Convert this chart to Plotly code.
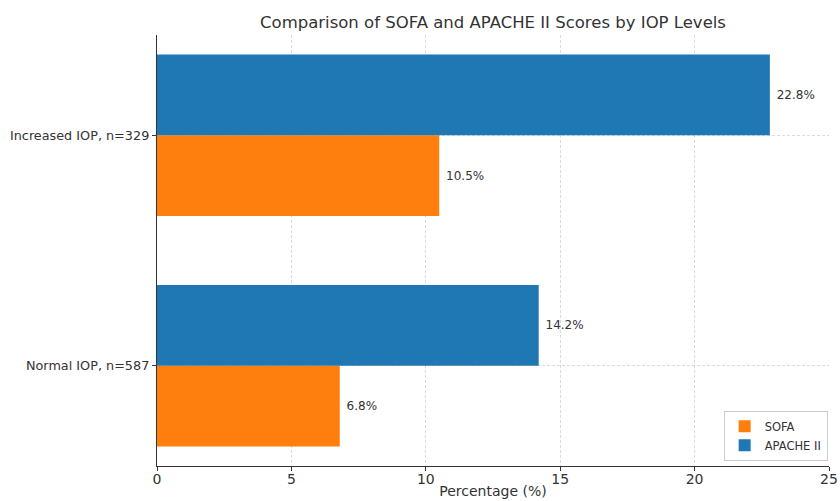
import plotly.graph_objects as go

# Groups and scores (percent)
groups = ["Normal IOP, n=587", "Increased IOP, n=329"]
sofa = [6.8, 10.5]
apache = [14.2, 22.8]
x_ticks = [0, 5, 10, 15, 20, 25]

positions = list(range(len(groups)))
bar_h = 0.35

FONT = "DejaVu Sans"
TXT = "#333333"
LABEL = "\u00a0%{x:.1f}%"

fig = go.Figure()

fig.add_trace(go.Bar(
    name="SOFA", y=positions, x=sofa, orientation="h",
    width=bar_h, offset=-bar_h,
    marker=dict(color="#ff7f0e", line=dict(width=0)),
    texttemplate=LABEL, textposition="outside",
    textfont=dict(family=FONT, size=12, color=TXT),
    cliponaxis=False,
))
fig.add_trace(go.Bar(
    name="APACHE II", y=positions, x=apache, orientation="h",
    width=bar_h, offset=0,
    marker=dict(color="#1f77b4", line=dict(width=0)),
    texttemplate=LABEL, textposition="outside",
    textfont=dict(family=FONT, size=12, color=TXT),
    cliponaxis=False,
))

grid = "rgba(175,175,175,0.45)"

fig.update_layout(
    width=840, height=501,
    margin=dict(l=157, r=11, t=35, b=35),
    paper_bgcolor="white", plot_bgcolor="white",
    barmode="overlay",
    font=dict(family=FONT, color=TXT),
    title=dict(
        text="Comparison of SOFA and APACHE II Scores by IOP Levels",
        x=(157 + 829) / 2 / 840, xanchor="center",
        y=1 - 22 / 501, yanchor="middle",
        font=dict(family=FONT, size=16.5, color=TXT),
    ),
    xaxis=dict(
        range=[0, 25], tickvals=x_ticks, ticktext=[str(v) for v in x_ticks],
        showline=True, linecolor="#333333", linewidth=1.3,
        ticks="outside", ticklen=4, tickcolor="#333333",
        ticklabelstandoff=-4,
        showgrid=True, gridcolor=grid, griddash="3px,2px", gridwidth=1,
        zeroline=False, layer="above traces", automargin=False,
        tickfont=dict(family=FONT, size=14, color=TXT),
        title=dict(text="Percentage (%)", standoff=0,
                   font=dict(family=FONT, size=14, color=TXT)),
    ),
    yaxis=dict(
        range=[-0.435, 1.435], tickvals=positions, ticktext=groups,
        showline=True, linecolor="#333333", linewidth=1.3,
        ticks="outside", ticklen=4, tickcolor="#333333",
        showgrid=True, gridcolor=grid, griddash="3px,2px", gridwidth=1,
        zeroline=False, layer="above traces", automargin=False,
        tickfont=dict(family=FONT, size=12.8, color=TXT),
    ),
    legend=dict(
        x=0.998, xanchor="right", y=0.012, yanchor="bottom",
        bgcolor="rgba(255,255,255,0.85)", bordercolor="#cccccc", borderwidth=1,
        font=dict(family=FONT, size=11.5, color=TXT),
        traceorder="normal",
    ),
    showlegend=True,
)

fig.write_html("out.html")
